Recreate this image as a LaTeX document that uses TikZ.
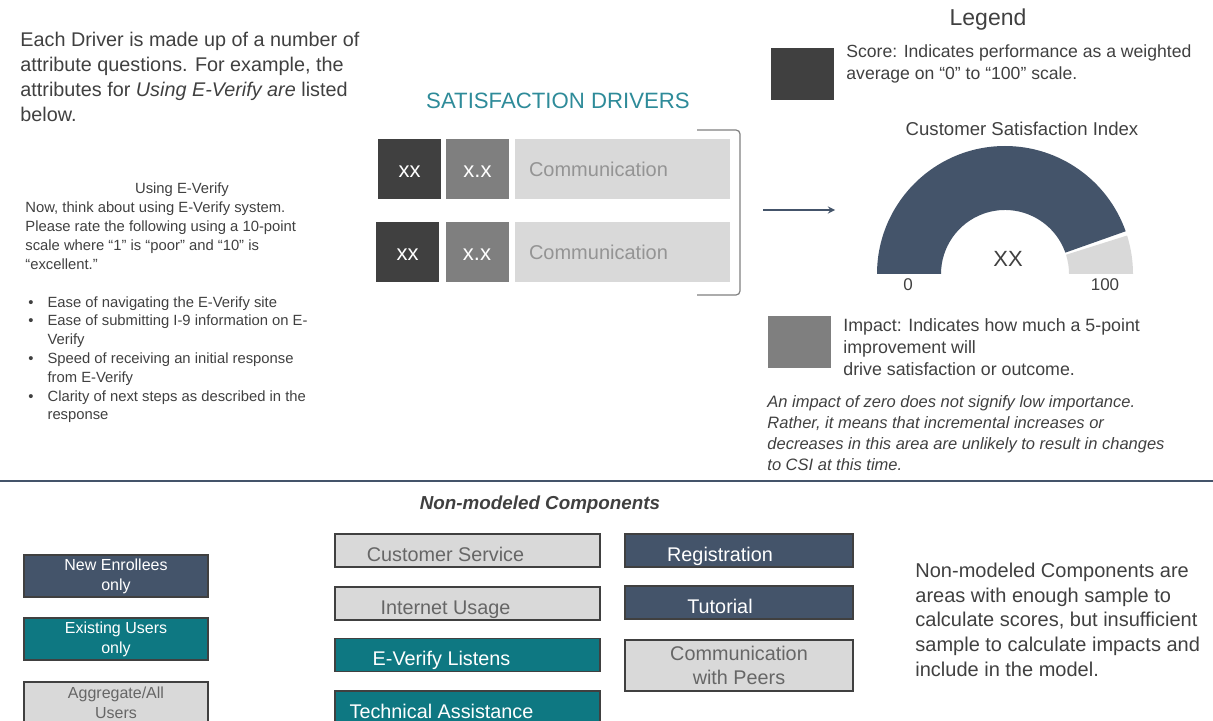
\documentclass[tikz,border=0pt]{standalone}
\usepackage{fontspec}
\setmainfont{Liberation Sans}

\definecolor{scoregray}{RGB}{64,64,64}
\definecolor{impactgray}{RGB}{127,127,127}
\definecolor{palegray}{RGB}{217,217,217}
\definecolor{csinavy}{RGB}{68,84,106}
\definecolor{userteal}{RGB}{14,120,130}
\definecolor{headteal}{RGB}{46,139,153}
\definecolor{bodygray}{RGB}{64,64,64}

\begin{document}
\begin{tikzpicture}[x=0.5pt,y=-0.5pt,>=stealth,
    body/.style={text=bodygray,inner sep=0pt,align=left},
    drvbox/.style={minimum width=31.5pt,minimum height=30pt,inner sep=0pt,
      text height=9pt,text depth=0.3pt,text=white,font=\fontsize{11}{12}\selectfont},
    namebox/.style={fill=palegray,minimum width=107.5pt,minimum height=30pt,
      text width=93.5pt,inner xsep=7pt,align=left,text=black!42,
      font=\fontsize{10}{12}\selectfont},
    keybox/.style={minimum width=31.5pt,minimum height=26pt,inner sep=0pt},
    catbox/.style={draw=black!75,line width=0.7pt,inner sep=0pt,align=center,
      font=\fontsize{9.9}{12}\selectfont},
    oneline/.style={text height=11pt,text depth=0.5pt},
    userbox/.style={draw=black!75,line width=0.7pt,minimum width=92pt,
      minimum height=21pt,inner sep=0pt,align=center,
      font=\fontsize{8}{10}\selectfont}]
  \useasboundingbox (0,0) rectangle (1213,721);

  % left column: what a driver is (multi-line nodes sit on their last line)
  \node[body,anchor=base west,font=\fontsize{9.9}{12.5}\selectfont] (intro) at (20,122)
    {Each Driver is made up of a number  of\\attribute questions. For example,  the\\
     attributes for \textit{Using E-Verify are}  listed\\below.};
  \node[body,anchor=base,font=\fontsize{7.4}{9.5}\selectfont] (qtitle) at (182,194) {Using E-Verify};
  \node[body,anchor=base west,font=\fontsize{7.4}{9.5}\selectfont] (qtext) at (25,270)
    {Now, think about using E-Verify system.\\Please rate the following using a 10-point\\
     scale where “1” is “poor” and “10” is\\“excellent.”};
  \node[body,anchor=base west,font=\fontsize{7.4}{9.4}\selectfont] (items) at (28,307)
    {\begin{tabular}[t]{@{}l@{\hspace{7pt}}l@{}}
      \textbullet & Ease of navigating the E-Verify site\\
      \textbullet & Ease of submitting I-9 information on E-\\
                  & Verify\\
      \textbullet & Speed of receiving an initial response\\
                  & from E-Verify\\
      \textbullet & Clarity of next steps as described in the\\
                  & response
    \end{tabular}};

  % satisfaction drivers
  \node[text=headteal,font=\fontsize{11.1}{12}\selectfont] (drvtitle) at (558,101) {SATISFACTION DRIVERS};
  \node[drvbox,fill=scoregray] (score1) at (409.5,169) {xx};
  \node[drvbox,fill=impactgray] (impact1) at (477.5,169) {x.x};
  \node[namebox] (name1) at (622.5,169) {Communication};
  \node[drvbox,fill=scoregray] (score2) at (407.5,252) {xx};
  \node[drvbox,fill=impactgray] (impact2) at (477,252) {x.x};
  \node[namebox] (name2) at (622.5,252) {Communication};
  \draw[impactgray,line width=0.6pt,rounded corners=2pt]
    (697,130) -- (740,130) -- (740,295) -- (697,295);

  \coordinate (arrowtail) at (763,210);
  \coordinate (arrowtip) at (835,210);
  \draw[->,csinavy,line width=0.6pt] (arrowtail) -- (arrowtip);

  % legend
  \node[text=bodygray,font=\fontsize{11.5}{13}\selectfont] (legend) at (988,20) {Legend};
  \node[keybox,fill=scoregray] (scorekey) at (802.5,74) {};
  \node[body,anchor=base west,font=\fontsize{8.8}{11}\selectfont] (scoretext) at (846,80)
    {Score: Indicates  performance as a  weighted\\average on  “0” to “100” scale.};
  \node[keybox,fill=impactgray] (impactkey) at (799,341.5) {};
  \node[body,anchor=base west,font=\fontsize{8.9}{11}\selectfont] (impacttext) at (843,375)
    {Impact: Indicates  how much a 5-point\\improvement will\\drive satisfaction or outcome.};
  \node[body,anchor=base west,font=\fontsize{8.25}{10.5}\selectfont\itshape] (zeronote) at (767,470)
    {An impact of zero does not signify low importance.\\Rather, it means that incremental increases or\\
     decreases in this area are unlikely to result in changes\\to CSI at this time.};

  % CSI gauge
  \node[text=bodygray,font=\fontsize{9.3}{10}\selectfont] (csititle) at (1022,129) {Customer Satisfaction Index};
  \coordinate (gc) at (1005,274);
  \fill[csinavy] ([shift={(180:64pt)}]gc) arc[start angle=180,end angle=19.5,radius=64pt]
    -- ([shift={(19.5:32pt)}]gc) arc[start angle=19.5,end angle=180,radius=32pt] -- cycle;
  \fill[palegray] ([shift={(17.5:64pt)}]gc) arc[start angle=17.5,end angle=0,radius=64pt]
    -- ([shift={(0:32pt)}]gc) arc[start angle=0,end angle=17.5,radius=32pt] -- cycle;
  \node[text=bodygray,font=\fontsize{11}{12}\selectfont] (csival) at (1008,259) {XX};
  \node[text=bodygray,font=\fontsize{8.5}{10}\selectfont] (csimin) at (908,285) {0};
  \node[text=bodygray,font=\fontsize{8.5}{10}\selectfont] (csimax) at (1105,285) {100};

  \draw[csinavy,line width=1pt] (0,481) -- (1213,481);

  % non-modeled components
  \node[text=bodygray,font=\fontsize{9.4}{10}\selectfont\bfseries\itshape] (nmtitle) at (540,505)
    {Non-modeled Components};
  \node[userbox,fill=csinavy,text=white] (newusers) at (116,576) {New Enrollees\\only};
  \node[userbox,fill=userteal,text=white] (oldusers) at (116,639) {Existing Users\\only};
  \node[userbox,fill=palegray,text=black!60] (allusers) at (116,703) {Aggregate/All\\Users};

  \node[catbox,oneline,fill=palegray,text=black!60,minimum width=132.5pt,minimum height=16.5pt]
    (custsvc) at (467.5,550.5) {Customer Service\hspace*{22pt}};
  \node[catbox,oneline,fill=palegray,text=black!60,minimum width=132.5pt,minimum height=16.5pt]
    (netuse) at (467.5,603.5) {Internet Usage\hspace*{22pt}};
  \node[catbox,oneline,fill=userteal,text=white,minimum width=132.5pt,minimum height=16.5pt]
    (listens) at (467.5,655) {E-Verify Listens\hspace*{26pt}};
  \node[catbox,oneline,fill=userteal,text=white,minimum width=132.5pt,minimum height=16.5pt]
    (techhelp) at (467.5,707.5) {Technical Assistance\hspace*{26pt}};
  \node[catbox,oneline,fill=csinavy,text=white,minimum width=114pt,minimum height=16.5pt]
    (register) at (739,550.5) {Registration\hspace*{19pt}};
  \node[catbox,oneline,fill=csinavy,text=white,minimum width=114pt,minimum height=16.5pt]
    (tutorial) at (739,602.5) {Tutorial\hspace*{19pt}};
  \node[catbox,fill=palegray,text=black!60,minimum width=114pt,minimum height=25.5pt]
    (peers) at (739,665.5) {Communication\\with Peers};

  \node[body,anchor=base west,font=\fontsize{10}{12.3}\selectfont] (nmnote) at (915,676)
    {Non-modeled Components are\\areas with enough sample to\\calculate scores, but  insufficient\\
     sample to calculate  impacts and\\include in the  model.};
\end{tikzpicture}
\end{document}
